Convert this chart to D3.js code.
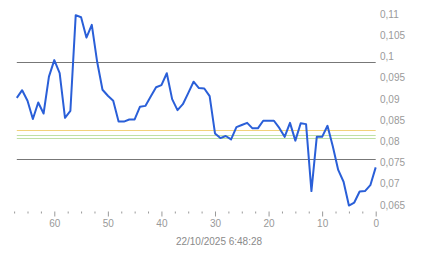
<!DOCTYPE html>
<html><head><meta charset="utf-8">
<script src="https://cdn.jsdelivr.net/npm/d3@7"></script>
<style>
html,body{margin:0;padding:0;background:#fff;}
svg{display:block;font-family:"Liberation Sans",Arial,sans-serif;}
</style></head>
<body>
<svg id="c" width="443" height="258"></svg>
<script>
// units back (x) and value (y)
const xUnits = [67,66,65,64,63,62,61,60,59,58,57,56,55,54,53,52,51,50,49,48,47,46,45,44,43,42,41,40,39,38,37,36,35,34,33,32,31,30,29,28,27,26,25,24,23,22,21,20,19,18,17,16,15,14,13,12,11,10,9,8,7,6,5,4,3,2,1,0];
const values = [0.0903,0.0921,0.0896,0.0853,0.0892,0.0866,0.0953,0.0992,0.0961,0.0856,0.0872,0.1098,0.1093,0.1045,0.1075,0.0988,0.0922,0.0908,0.0896,0.0847,0.0847,0.0852,0.0852,0.0882,0.0884,0.0906,0.0928,0.0933,0.0961,0.0900,0.0874,0.0888,0.0914,0.0941,0.0926,0.0925,0.0907,0.0819,0.0808,0.0813,0.0805,0.0834,0.0839,0.0844,0.0831,0.0831,0.0849,0.0849,0.0849,0.0832,0.0811,0.0844,0.0802,0.0843,0.0841,0.0683,0.0811,0.0811,0.0837,0.0788,0.0733,0.0705,0.0649,0.0656,0.0682,0.0683,0.0697,0.0739];
const yTicks = [0.065,0.07,0.075,0.08,0.085,0.09,0.095,0.1,0.105,0.11];
const yTickLabels = ["0,065","0,07","0,075","0,08","0,085","0,09","0,095","0,1","0,105","0,11"];
const xMajorTicks = [60,50,40,30,20,10,0];
const xMinorTicks = [67.5,65,62.5,57.5,55,52.5,47.5,45,42.5,37.5,35,32.5,27.5,25,22.5,17.5,15,12.5,7.5,5,2.5];
const grayLevels = [0.09875,0.0758];
const orangeLevels = [0.08264];
const greenLevels = [0.08153,0.08082];
const dateLabel = "22/10/2025 6:48:28";

const svg = d3.select("#c");
const x = d3.scaleLinear().domain([67,0]).range([16.8,375.7]);
const y = d3.scaleLinear().domain([0.065,0.11]).range([205.1,14.3]);

function hlines(levels, color){
  svg.append("g").selectAll("line").data(levels).join("line")
    .attr("x1", x(67)).attr("x2", x(0))
    .attr("y1", d=>Math.round(y(d))+0.5).attr("y2", d=>Math.round(y(d))+0.5)
    .attr("stroke", color).attr("stroke-width",1);
}
hlines(orangeLevels, "#f2d27a");
hlines(greenLevels, "#bfe0a4");
hlines(grayLevels, "#777");

// y labels
svg.append("g").selectAll("text").data(yTicks).join("text")
  .attr("x", 380).attr("y", d=>y(d)).attr("dy","0.35em")
  .attr("font-size",10).attr("fill","#9a9a9a")
  .text((d,i)=>yTickLabels[i]);

// x axis
const axisY = 211.5;
const gMinor = svg.append("g").attr("transform",`translate(0,${axisY})`)
  .call(d3.axisBottom(x).tickValues(xMinorTicks).tickSize(2).tickFormat(""));
const gMajor = svg.append("g").attr("transform",`translate(0,${axisY})`)
  .call(d3.axisBottom(x).tickValues(xMajorTicks).tickSize(5).tickPadding(3).tickFormat(d3.format("d")));
[gMinor,gMajor].forEach(g=>{
  g.select(".domain").remove();
  g.selectAll("line").attr("stroke","#999");
  g.selectAll("text").attr("fill","#999").attr("font-size",10).attr("font-family","Liberation Sans, Arial, sans-serif");
});

svg.append("text").attr("x",219).attr("y",241).attr("dy","0.35em")
  .attr("text-anchor","middle").attr("font-size",10).attr("fill","#8a8a8a")
  .text(dateLabel);

// line
const line = d3.line().x((d,i)=>x(xUnits[i])).y(d=>y(d));
svg.append("path").datum(values).attr("d", line)
  .attr("fill","none").attr("stroke","#2a5fd8").attr("stroke-width",2)
  .attr("stroke-linejoin","round");
</script>
</body></html>
